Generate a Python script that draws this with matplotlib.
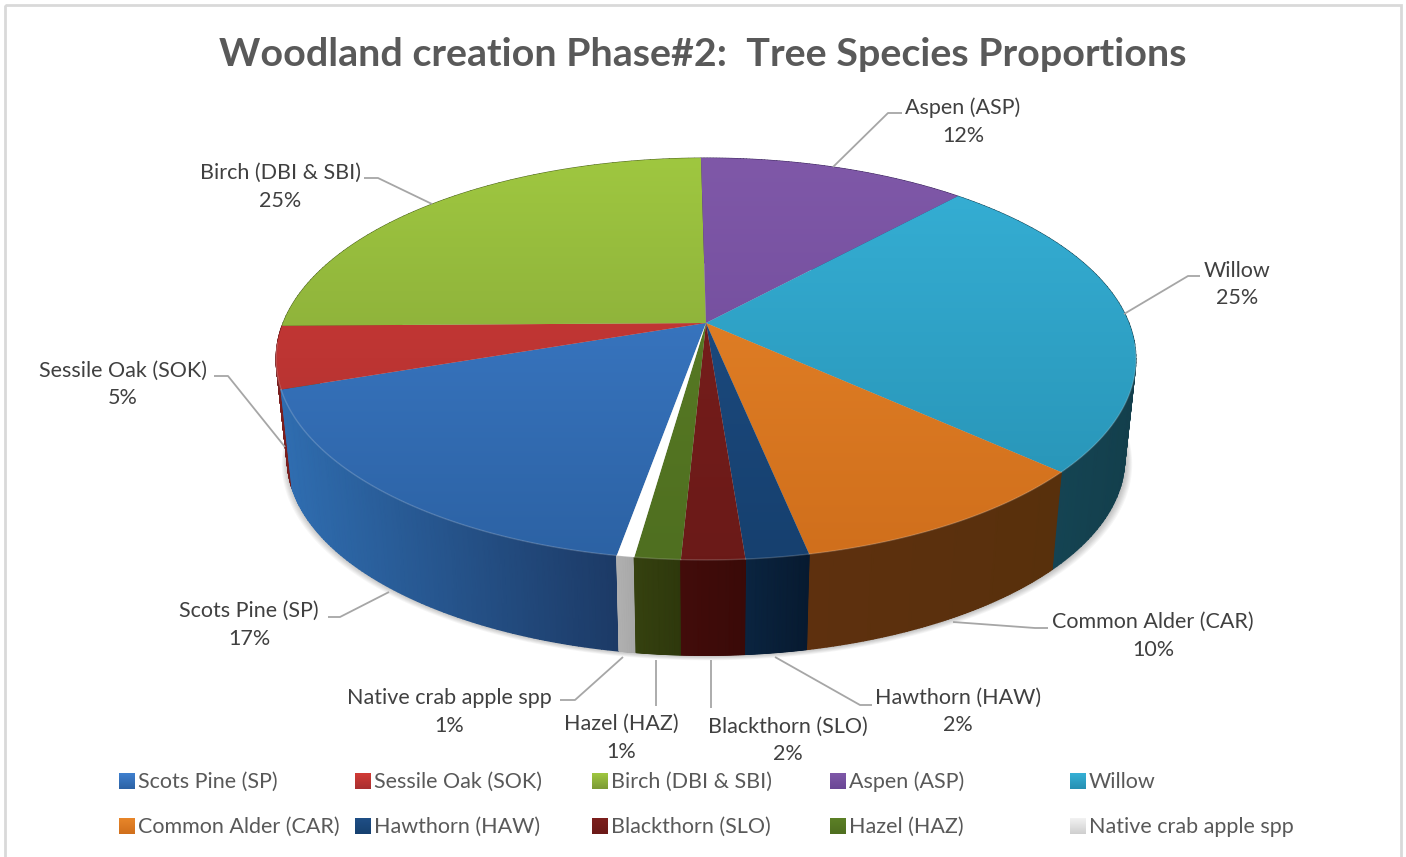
import numpy as np
import matplotlib
matplotlib.use("Agg")
import matplotlib.pyplot as plt
from matplotlib.patches import Polygon, Rectangle

plt.rcParams['font.family'] = ['Lato', 'DejaVu Sans']

title = "Woodland creation Phase#2:  Tree Species Proportions"
species = ["Scots Pine (SP)", "Sessile Oak (SOK)", "Birch (DBI & SBI)", "Aspen (ASP)", "Willow",
           "Common Alder (CAR)", "Hawthorn (HAW)", "Blackthorn (SLO)", "Hazel (HAZ)", "Native crab apple spp"]
# shares, the two smallest are not really equal in the picture
shares = [17, 5, 25, 12, 25, 10, 2, 2, 1.45, 0.55]

top_light = ["#3f80cf", "#d23b36", "#9fc740", "#7f58a8", "#36b0d6", "#e8862a", "#1f4f86", "#7c1f1d", "#5c8026", "#ffffff"]
top_dark = ["#2c62a4", "#a82f30", "#7b9a35", "#6a4795", "#2690b2", "#d06f1c", "#16406f", "#6b1a18", "#4f6f20", "#ffffff"]
wall_left = ["#2f6db0", "#7c1f1f", "#4d6320", "#3f2a60", "#174a5c", "#5e300e", "#0a2440", "#420c0a", "#35410f", "#b0b0b0"]
wall_right = ["#1c3a66", "#6e1c1c", "#4d6320", "#3f2a60", "#133f4c", "#58300c", "#071a30", "#3a0a08", "#2e380c", "#a8a8a8"]

# label boxes: name centre x, name y, percent y, leader points
label_pos = [
    (249, 610, 638, [(389, 592), (340, 617), (328, 617)]),
    (123, 370, 397, [(285, 447), (228, 376), (214, 376)]),
    (280, 172, 200, [(432, 204), (378, 178), (364, 178)]),
    (963, 107, 135, [(833, 167), (888, 113), (902, 113)]),
    (1237, 270, 297, [(1124, 314), (1188, 276), (1200, 276)]),
    (1153, 621, 649, [(953, 622), (1035, 628), (1048, 628)]),
    (958, 697, 724, [(775, 657), (860, 705), (872, 705)]),
    (788, 726, 753, [(711, 660), (711, 708)]),
    (621, 723, 751, [(656, 660), (656, 706)]),
    (449, 697, 725, [(623, 657), (575, 700), (560, 700)]),
]
legend_x = [119, 355, 592, 830, 1070, 119, 355, 592, 830, 1070]
legend_y = [781, 781, 781, 781, 781, 826, 826, 826, 826, 826]

CX, K = 706, 0.179
TOP = (423, 323, 194.5)
BOTTOM = (412, 424, 190)
FONT = 15.5


def project(deg, plane):
    a, y0, b = plane
    t = np.radians(deg)
    d = 1 + K * np.sin(t)
    return CX + a * np.cos(t) / d, y0 - b * np.sin(t) / d


def hex_rgb(c):
    return np.array(matplotlib.colors.to_rgb(c))


def shaded(ax, pts, c1, c2, z):
    # vertical gradient image clipped to the polygon
    pts = np.array(pts)
    x0, x1 = pts[:, 0].min(), pts[:, 0].max()
    y0, y1 = pts[:, 1].min(), pts[:, 1].max()
    n = np.linspace(0, 1, 64)[:, None]
    grad = hex_rgb(c1) * (1 - n) + hex_rgb(c2) * n
    im = ax.imshow(grad[:, None, :], extent=(x0, x1, y1, y0), aspect='auto', zorder=z, interpolation='bilinear')
    clip = Polygon(pts, closed=True, transform=ax.transData, fc='none', ec='none')
    ax.add_patch(clip)
    im.set_clip_path(clip)


fig = plt.figure(figsize=(14.06, 8.57), dpi=100)
ax = fig.add_axes([0, 0, 1, 1])

ends = 260 - np.cumsum(shares) * 3.6
starts = np.concatenate(([260], ends[:-1]))

# soft shadow round the base
ring = np.linspace(0, 360, 361)
bx, by = project(ring, BOTTOM)
for grow in range(7, 0, -1):
    sx = CX + (bx - CX) * (1 + grow * 0.0022) + 1
    sy = by + grow * 0.7
    ax.fill(sx, sy, color='black', alpha=0.035, lw=0, zorder=1)

# walls back to front, gouraud mesh so the strips leave no seams
order = np.argsort([-np.sin(np.radians((s + e) / 2)) for s, e in zip(starts, ends)])
for rank, i in enumerate(order):
    arc = np.linspace(starts[i], ends[i], 90)
    tx, ty = project(arc, TOP)
    bx, by = project(arc, BOTTOM)
    f = ((tx - tx.min()) / max(tx.max() - tx.min(), 1))[:, None]
    col = hex_rgb(wall_left[i]) * (1 - f) + hex_rgb(wall_right[i]) * f
    X = np.vstack([tx, bx])
    Y = np.vstack([ty, by])
    C = np.stack([col, col])
    ax.pcolormesh(X, Y, C, shading='gouraud', zorder=2 + rank * 0.01)

# top face
for i in range(len(shares)):
    arc = np.linspace(starts[i], ends[i], 120)
    tx, ty = project(arc, TOP)
    face = [(CX, TOP[1])] + list(zip(tx, ty))
    ys = np.array(face)[:, 1]
    t0, t1 = (ys.min() - 158) / 400, (ys.max() - 158) / 400
    c1 = hex_rgb(top_light[i]) * (1 - t0) + hex_rgb(top_dark[i]) * t0
    c2 = hex_rgb(top_light[i]) * (1 - t1) + hex_rgb(top_dark[i]) * t1
    shaded(ax, face, c1, c2, 4)
    # lighter bevel on the front rim only
    front = np.sin(np.radians(arc)) < -0.1
    ax.plot(tx[front], ty[front], color='white', alpha=0.18, lw=1.0, zorder=5)

# leaders and labels
for name, val, (lx, ny, py, leader) in zip(species, shares, label_pos):
    xs, ys = zip(*leader)
    ax.plot(xs, ys, color='#a6a6a6', lw=1.3, zorder=6, solid_capstyle='butt')
    ax.text(lx, ny + 7, name, ha='center', va='baseline', fontsize=FONT, color='#404040', zorder=7)
    ax.text(lx, py + 7, f"{round(val)}%", ha='center', va='baseline', fontsize=FONT, color='#404040', zorder=7)

# legend
for name, c1, c2, x, y in zip(species, top_light, top_dark, legend_x, legend_y):
    box = [(x, y - 8), (x + 16, y - 8), (x + 16, y + 8), (x, y + 8)]
    if c1 == "#ffffff":
        c1, c2 = "#f2f2f2", "#cfcfcf"
    shaded(ax, box, c1, c2, 6)
    ax.text(x + 19, y + 7, name, ha='left', va='baseline', fontsize=FONT, color='#595959', zorder=7)

ax.text(703, 66, title, ha='center', va='baseline', fontsize=28.4, fontweight='bold', color='#595959')
ax.add_patch(Rectangle((5, 5), 1396, 900, fc='none', ec='#d9d9d9', lw=2, zorder=8))

ax.set_xlim(0, 1406)
ax.set_ylim(857, 0)
ax.axis('off')
fig.savefig("out.png", dpi=100)
